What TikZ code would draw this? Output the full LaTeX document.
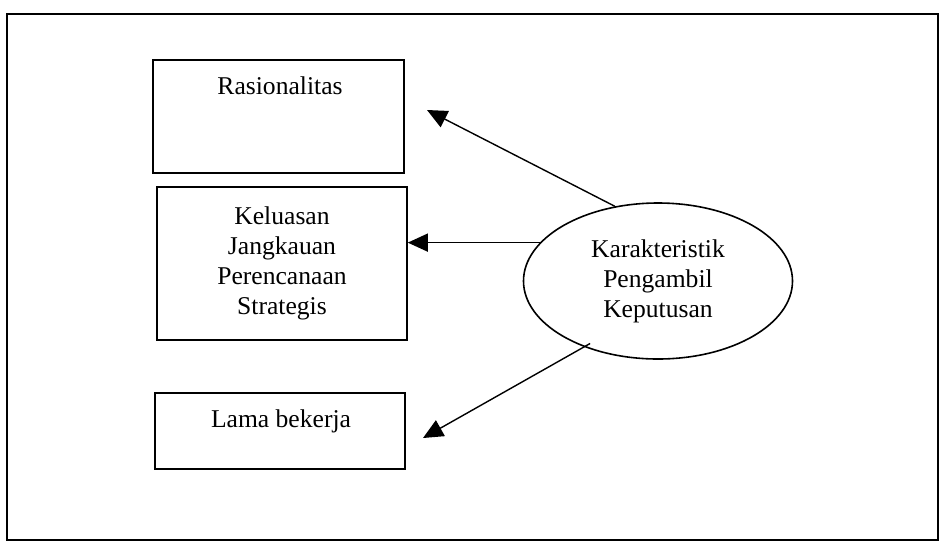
\documentclass[tikz,border=0pt]{standalone}
\usepackage{fontspec}
\setmainfont{Liberation Serif}
\usetikzlibrary{arrows.meta,shapes.geometric}

\tikzset{
	kotak/.style={draw, line width=0.8pt, rectangle},
	teks/.style={font=\fontsize{12.8}{15}\selectfont, align=center, inner sep=0pt},
	panah/.style={line width=0.7pt, -{Triangle[length=10pt,width=9pt]}}
}

\begin{document}
\begin{tikzpicture}[x=0.5pt, y=-0.5pt]
	\useasboundingbox (0,0) rectangle (942,543);
	\draw [line width=0.9pt] (7,14) rectangle (938,540);

	% kotak kiri
	\node[kotak, minimum width=125.5pt, minimum height=56.5pt] (rasio) at (278.5,116.5) {};
	\node[teks, anchor=base] (rasiotxt) at (280,94) {Rasionalitas};

	\node[kotak, teks, minimum width=125pt, minimum height=76.5pt] (luas) at (282,263.5) {Keluasan\\Jangkauan\\Perencanaan\\Strategis};

	\node[kotak, minimum width=125pt, minimum height=38pt] (lama) at (280,431) {};
	\node[teks, anchor=base] (lamatxt) at (281,427) {Lama bekerja};

	% elips
	\node[draw, ellipse, teks, line width=0.8pt, minimum width=134.5pt, minimum height=78pt] (ell) at (658,281) {Karakteristik\\Pengambil\\Keputusan};

	\coordinate (rasiotip) at (427,110);
	\coordinate (lamatip) at (423,438);

	\draw [panah] (ell.120) -- (rasiotip);
	\draw [panah] (ell.162) -- (ell.162 -| luas.east);
	\draw [panah] ([shift={(2,-5)}]ell.224) -- (lamatip);
\end{tikzpicture}
\end{document}
